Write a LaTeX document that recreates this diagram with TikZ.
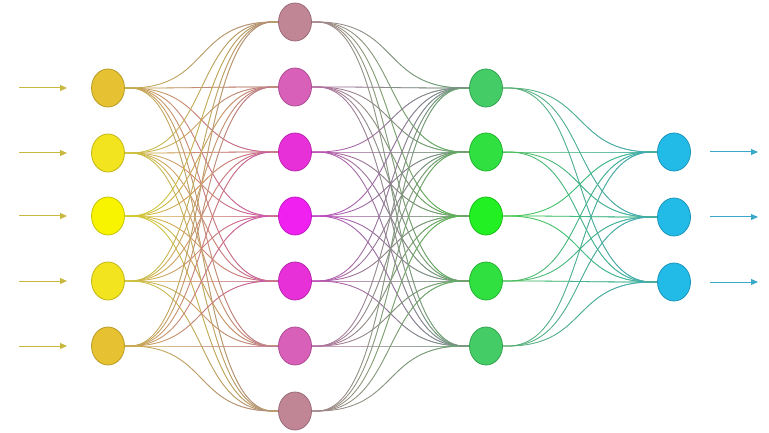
\documentclass[tikz,border=0pt]{standalone}
\usetikzlibrary{shapes.geometric,arrows.meta,fadings,backgrounds,calc}
\tikzfading[name=fadeR, left color=transparent!100, right color=transparent!0]
\definecolor{ya}{HTML}{E6C232}
\definecolor{yb}{HTML}{F2E41E}
\definecolor{yc}{HTML}{F8F400}
\definecolor{ma}{HTML}{C08696}
\definecolor{mb}{HTML}{D860B8}
\definecolor{mc}{HTML}{E830D8}
\definecolor{md}{HTML}{F020F0}
\definecolor{ga}{HTML}{44CC66}
\definecolor{gb}{HTML}{30E040}
\definecolor{gc}{HTML}{22F022}
\definecolor{cy}{HTML}{22BBE8}
\definecolor{inarr}{HTML}{C8B840}
\definecolor{outarr}{HTML}{3AA8C8}
\begin{document}
\begin{tikzpicture}[x=1pt,y=-1pt,
  neuron/.style={ellipse, minimum width=33pt, minimum height=38pt, inner sep=0pt, line width=0.8pt},
  link/.style={line width=0.8pt},
  inarrow/.style={draw=inarr, line width=1pt, -{Triangle[length=7pt,width=6pt]}},
  outarrow/.style={draw=outarr, line width=1pt, -{Triangle[length=7pt,width=6pt]}}]
\useasboundingbox (0,0) rectangle (769,433);
% layer 1
\foreach \y/\c [count=\i] in {88/ya,153/yb,216/yc,281/yb,346/ya}
  \node[neuron, fill=\c, draw=\c!80!black] (a\i) at (108,\y) {};
% layer 2
\foreach \y/\c [count=\i] in {22/ma,87/mb,152/mc,216/md,281/mc,346/mb,411/ma}
  \node[neuron, fill=\c, draw=\c!80!black] (b\i) at (295,\y) {};
% layer 3
\foreach \y/\c [count=\i] in {88/ga,152/gb,216/gc,281/gb,346/ga}
  \node[neuron, fill=\c, draw=\c!80!black] (c\i) at (486,\y) {};
% layer 4
\foreach \y [count=\i] in {152,217,282}
  \node[neuron, fill=cy, draw=cy!80!black] (d\i) at (674,\y) {};
% input / output arrows
\foreach \y [count=\i] in {88,153,216,281,346} {
  \coordinate (s\i) at (19,\y);
  \coordinate (t\i) at (67,\y);
  \draw[inarrow] (s\i) -- (t\i);
}
\foreach \i in {1,2,3} {
  \coordinate (u\i) at ($(d\i)+(36,0)$);
  \coordinate (v\i) at ($(d\i)+(84,0)$);
  \draw[outarrow] (u\i) -- (v\i);
}
\begin{scope}[on background layer]
\foreach \i/\ca in {1/ya,2/yb,3/yc,4/yb,5/ya}
  \foreach \j/\cb in {1/ma,2/mb,3/mc,4/md,5/mc,6/mb,7/ma} {
    \draw[link, \ca!70!gray] (a\i.east) -- ++(5,0) .. controls +(80,0) and +(-80,0) .. ($(b\j.west)+(-5,0)$) -- (b\j.west);
    \draw[link, \cb!70!gray, path fading=fadeR] (a\i.east) -- ++(5,0) .. controls +(80,0) and +(-80,0) .. ($(b\j.west)+(-5,0)$) -- (b\j.west) +(0,2);
  }
\foreach \i/\ca in {1/ma,2/mb,3/mc,4/md,5/mc,6/mb,7/ma}
  \foreach \j/\cb in {1/ga,2/gb,3/gc,4/gb,5/ga} {
    \draw[link, \ca!60!gray] (b\i.east) -- ++(5,0) .. controls +(82,0) and +(-82,0) .. ($(c\j.west)+(-5,0)$) -- (c\j.west);
    \draw[link, \cb!65!gray, path fading=fadeR] (b\i.east) -- ++(5,0) .. controls +(82,0) and +(-82,0) .. ($(c\j.west)+(-5,0)$) -- (c\j.west) +(0,2);
  }
\foreach \i/\ca in {1/ga,2/gb,3/gc,4/gb,5/ga}
  \foreach \j in {1,2,3} {
    \draw[link, \ca!65!gray] (c\i.east) -- ++(5,0) .. controls +(80,0) and +(-80,0) .. ($(d\j.west)+(-5,0)$) -- (d\j.west);
    \draw[link, cy!70!gray, path fading=fadeR] (c\i.east) -- ++(5,0) .. controls +(80,0) and +(-80,0) .. ($(d\j.west)+(-5,0)$) -- (d\j.west) +(0,2);
  }
\end{scope}
\end{tikzpicture}
\end{document}
